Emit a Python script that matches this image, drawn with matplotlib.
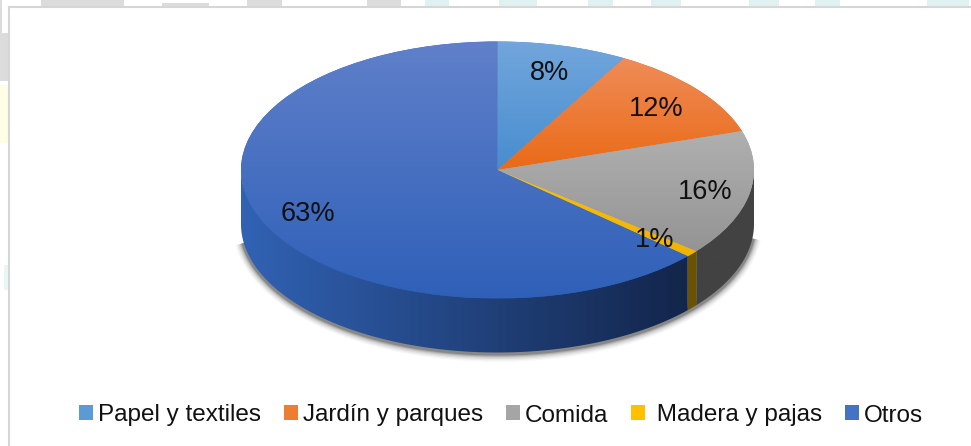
import numpy as np
import matplotlib
matplotlib.use("Agg")
import matplotlib.pyplot as plt
from matplotlib.colors import LinearSegmentedColormap
from matplotlib.patches import Patch, Rectangle, Polygon
from matplotlib.transforms import ScaledTranslation

categories = ["Papel y textiles", "Jardín y parques", "Comida", " Madera y pajas", "Otros"]
values = [8.2, 11.9, 15.8, 0.8, 63.3]

top_light = ["#72a6dc", "#ef8c58", "#b0b0b0", "#ffc000", "#6080ca"]
top_dark = ["#478dcf", "#ea6a16", "#949494", "#f0b400", "#2f60b8"]
side_left = ["#3f7fc0", "#c05a10", "#464646", "#6e5500", "#3162b4"]
side_right = ["#3f7fc0", "#c05a10", "#424242", "#6a5200", "#13264c"]
legend_cols = ["#5b9bd5", "#ed7d31", "#a5a5a5", "#ffc000", "#4472c4"]

plt.rcParams["font.family"] = ["Liberation Sans", "DejaVu Sans"]
W, H = 971, 446
CX, CY, RX, RY, DEPTH = 497.5, 170, 256.5, 128.5, 54
label_nudge = [(0, 2), (-1, 4), (6, 3), (2, 3), (-2, 2)]

fig = plt.figure(figsize=(W / 100, H / 100), dpi=100, facecolor="white")

# page behind the chart frame
bg = fig.add_axes([0, 0, 1, 1], zorder=0)
bg.set_xlim(0, W); bg.set_ylim(H, 0); bg.axis("off")
for x, y, w, h, c in [
    (0, 33, 8, 48, "#dcdcdc"), (0, 85, 8, 58, "#fffde6"), (0, 0, 2, 33, "#dcdcdc"),
    (41, 0, 83, 6, "#dcdcdc"), (162, 3, 47, 3, "#dcdcdc"), (247, 0, 35, 6, "#dcdcdc"),
    (367, 0, 34, 6, "#dcdcdc"), (425, 0, 24, 6, "#dff1f0"), (499, 0, 38, 6, "#dff1f0"),
    (588, 0, 25, 6, "#dff1f0"), (651, 0, 30, 6, "#dff1f0"), (749, 0, 30, 6, "#dff1f0"),
    (815, 0, 25, 6, "#dff1f0"), (927, 0, 42, 6, "#dff1f0"), (4, 265, 4, 25, "#eaf6f5"),
]:
    bg.add_patch(Rectangle((x, y), w, h, fc=c, ec="none"))
bg.plot([8.5, 8.5], [H, 7], color="#d6d6d6", lw=1.5)
bg.plot([8.5, W], [7, 7], color="#d6d6d6", lw=1.5)

# pie axes: unit circle maps onto the ellipse of the disc
ax = fig.add_axes([0, 0, 1, 1], zorder=1)
wedges, _, autotexts = ax.pie(
    values, startangle=90, counterclock=False, radius=1, center=(0, 0),
    colors=top_dark, autopct="%.0f%%", pctdistance=0.8,
    textprops={"fontsize": 19.5, "color": "#111111"},
    wedgeprops={"linewidth": 0},
)
ax.set_aspect("auto")
xlim = (-CX / RX, (W - CX) / RX)
ylim = ((CY - H) / RY, CY / RY)
d = DEPTH / RY

# soft shadow around the side wall
arc = np.radians(np.linspace(-172, -6, 300))
for lw, a in zip([12, 10, 8, 6, 4.5, 3], [.03, .05, .07, .09, .13, .2]):
    ax.plot(np.cos(arc), np.sin(arc) - d - 0.008, color="black", lw=lw, alpha=a,
            zorder=1, solid_capstyle="butt")

# extruded side wall, built from the same slice angles, shaded left to right
edges = 90 - 360 * np.cumsum([0] + values) / sum(values)
hgrad = np.linspace(0, 1, 256).reshape(1, -1)
for i in range(len(values)):
    lo, hi = max(edges[i + 1], -180), min(edges[i], 0)
    if hi <= lo:
        continue
    th = np.radians(np.linspace(lo, hi, 200))
    xs, ys = np.cos(th), np.sin(th)
    poly = Polygon(np.r_[np.c_[xs, ys + 0.01], np.c_[xs[::-1], ys[::-1] - d]],
                   closed=True, fc="none", ec="none", zorder=2,
                   transform=ax.transData)
    ax.add_patch(poly)
    cmap = LinearSegmentedColormap.from_list(
        f"s{i}", [(0, side_left[i]), (0.86, side_right[i]), (1, side_right[i])])
    im = ax.imshow(hgrad, cmap=cmap, extent=(-1, 1, -1.6, 0.2), aspect="auto",
                   zorder=2.5, interpolation="bilinear")
    im.set_clip_path(poly)

# disc faces with a vertical gradient over each slice's own height
vgrad = np.linspace(0, 1, 256).reshape(-1, 1)
for i, w in enumerate(wedges):
    w.set_zorder(3)
    ext = w.get_path().get_extents()
    cmap = LinearSegmentedColormap.from_list(f"g{i}", [top_light[i], top_dark[i]])
    im = ax.imshow(vgrad, cmap=cmap, extent=(-1, 1, ext.y0, ext.y1), origin="upper",
                   aspect="auto", zorder=4, interpolation="bilinear")
    im.set_clip_path(w)

ax.set_xlim(*xlim)
ax.set_ylim(*ylim)
ax.axis("off")
for t, (dx, dy) in zip(autotexts, label_nudge):
    t.set_zorder(6)
    t.set_transform(ax.transData + ScaledTranslation(dx / 100, -dy / 100, fig.dpi_scale_trans))

handles = [Patch(facecolor=c, edgecolor="none") for c in legend_cols]
fig.legend(handles, categories, loc="center", bbox_to_anchor=(501 / W, 1 - 415.5 / H),
           ncol=5, frameon=False, fontsize=17.5, handlelength=0.58, handleheight=0.58,
           handletextpad=0.2, columnspacing=0.95, labelcolor="#111111")

fig.savefig("out.png", dpi=100)
